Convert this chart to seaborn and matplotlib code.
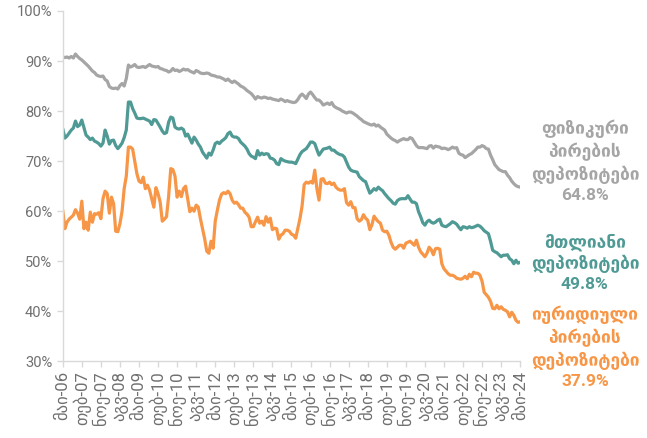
import pandas as pd
import matplotlib
matplotlib.use("Agg")
import matplotlib.pyplot as plt
import seaborn as sns

# monthly series, May 2006 - May 2024 (share of deposits in foreign currency, %)
start_month = "2006-05-01"
n_months = 217

individuals = [
    90.8, 90.7, 90.8, 90.6, 90.9, 90.6, 91.4, 90.9, 90.5, 90.2,
    89.8, 89.4, 89.0, 88.5, 88.0, 87.7, 87.2, 87.0, 86.9, 87.0,
    86.3, 86.0, 84.9, 84.6, 84.5, 84.6, 84.4, 85.1, 85.5, 85.0,
    86.5, 89.2, 88.8, 89.0, 89.3, 88.8, 88.7, 88.8, 88.9, 88.7,
    89.0, 89.3, 89.0, 88.9, 88.8, 88.9, 88.5, 88.4, 88.2, 88.1,
    87.8, 88.0, 88.5, 88.1, 88.2, 87.9, 88.1, 88.4, 88.2, 88.3,
    88.0, 87.8, 87.6, 88.1, 87.9, 87.6, 87.5, 87.5, 87.6, 87.5,
    87.2, 87.1, 87.0, 86.8, 86.8, 86.6, 86.4, 86.1, 86.4, 86.0,
    85.7, 86.0, 85.7, 85.4, 85.0, 84.8, 84.5, 84.1, 83.8, 83.5,
    83.0, 82.4, 82.9, 82.7, 82.6, 82.8, 82.7, 82.5, 82.6, 82.4,
    82.3, 82.2, 82.1, 82.4, 82.2, 81.9, 82.1, 81.9, 81.8, 81.7,
    81.8, 82.3, 83.0, 83.4, 83.0, 82.5, 83.4, 83.8, 83.3, 82.7,
    82.2, 82.2, 81.8, 81.2, 81.4, 81.6, 81.3, 81.7, 81.0, 80.7,
    80.5, 80.3, 80.0, 79.8, 79.6, 79.8, 79.8, 79.6, 79.3, 79.0,
    78.6, 78.3, 77.9, 77.7, 77.5, 77.3, 77.2, 77.4, 77.0, 77.2,
    76.8, 76.5, 76.2, 75.4, 75.0, 74.6, 74.3, 74.1, 73.8, 74.1,
    74.3, 74.5, 74.3, 74.3, 74.7, 74.5, 73.8, 73.1, 72.7, 72.7,
    72.7, 72.6, 72.5, 73.0, 73.1, 72.6, 73.0, 72.9, 72.8, 72.5,
    72.6, 72.5, 72.3, 72.5, 72.8, 72.6, 72.7, 71.6, 71.3, 71.2,
    70.7, 71.0, 71.3, 71.5, 71.9, 72.3, 72.8, 72.8, 73.1, 72.9,
    72.5, 72.4, 71.2, 70.3, 69.3, 68.8, 68.3, 68.1, 67.9, 67.9,
    67.2, 66.7, 66.0, 65.5, 65.1, 64.9, 64.8,
]

total = [
    76.5, 74.6, 75.0, 75.6, 76.2, 76.6, 78.0, 76.9, 77.2, 78.2,
    76.7, 75.2, 74.8, 74.3, 74.6, 74.0, 73.8, 73.5, 73.0, 73.6,
    76.2, 75.0, 73.4, 74.1, 74.2, 73.1, 72.5, 73.0, 73.6, 74.7,
    76.2, 81.8, 81.8, 80.5, 79.6, 78.6, 78.5, 78.5, 78.6, 78.4,
    78.2, 78.0, 77.3, 78.3, 78.2, 77.5, 76.8, 76.0, 75.5, 75.7,
    77.8, 78.8, 78.6, 76.8, 76.5, 76.4, 76.6, 76.3, 75.0, 75.4,
    74.5, 73.6, 74.8, 74.2, 73.4, 72.8, 71.8, 71.2, 70.6, 71.6,
    71.2, 72.2, 73.5, 73.8, 73.5, 74.0, 74.3, 74.7, 75.5, 75.8,
    75.0, 74.8, 74.8, 74.5, 73.8, 73.4, 73.0, 72.4, 71.5, 71.0,
    70.8, 70.5, 72.1, 71.2, 71.6, 71.3, 71.5, 71.4, 70.6, 70.5,
    70.2, 69.5, 69.3, 70.5, 70.2, 70.0, 69.9, 69.8, 69.8, 69.7,
    69.5, 70.4, 71.3, 71.9, 72.2, 72.5, 73.1, 73.8, 73.8, 73.5,
    72.3, 71.2, 71.8, 72.4, 72.5, 72.6, 72.8, 72.2, 72.2, 71.8,
    71.5, 71.3, 71.2, 70.8, 69.8, 68.8, 68.2, 68.0, 67.9, 67.8,
    66.9, 66.5, 66.1, 65.9, 64.7, 63.6, 64.0, 64.5, 64.2, 64.8,
    64.4, 64.1, 63.5, 63.0, 62.5, 62.1, 61.6, 61.4, 62.1, 62.4,
    62.5, 62.5, 62.5, 63.1, 62.4, 61.8, 61.8, 61.5, 59.9, 58.9,
    57.7, 57.2, 57.9, 58.2, 57.8, 57.6, 57.8, 58.2, 58.4, 57.2,
    57.0, 56.9, 57.2, 57.5, 57.9, 57.7, 57.4, 56.8, 56.3, 56.9,
    56.8, 56.6, 56.9, 56.7, 56.8, 57.0, 57.2, 57.0, 56.6, 56.1,
    55.8, 55.5, 54.0, 52.2, 51.9, 51.7, 51.3, 50.9, 51.2, 51.2,
    51.3, 50.5, 50.2, 49.5, 50.2, 49.6, 49.8,
]

legal_entities = [
    60.2, 56.5, 57.8, 58.4, 58.8, 59.2, 60.3, 59.6, 58.4, 62.0,
    56.5, 57.8, 56.2, 59.8, 57.8, 59.5, 59.4, 59.7, 58.5, 62.5,
    64.0, 63.5, 59.6, 62.8, 61.5, 56.0, 55.9, 57.5, 60.0, 64.5,
    67.0, 72.8, 72.8, 72.4, 70.0, 67.5, 66.0, 65.7, 66.8, 64.5,
    65.2, 64.2, 62.5, 60.8, 64.7, 63.5, 61.8, 58.0, 58.4, 58.9,
    63.0, 68.5, 68.3, 67.0, 62.8, 64.0, 62.9, 64.5, 65.0, 62.5,
    59.9, 60.6, 60.0, 61.2, 60.8, 58.5, 56.5, 54.5, 52.0, 51.6,
    54.0, 52.6, 58.0, 60.2, 62.2, 63.4, 63.7, 63.5, 64.0, 63.5,
    62.2, 61.6, 61.8, 61.3, 60.6, 60.6, 59.8, 59.4, 58.8, 56.9,
    56.9, 57.9, 58.8, 57.6, 58.0, 57.2, 58.9, 57.8, 58.6, 56.3,
    56.6, 56.5, 54.4, 55.2, 55.5, 56.2, 56.2, 56.0, 55.4, 55.2,
    54.6, 56.5, 58.5, 61.0, 65.3, 65.8, 65.6, 65.9, 65.6, 68.2,
    64.5, 62.2, 66.4, 66.5, 65.6, 65.5, 65.8, 65.3, 65.6, 64.8,
    64.4, 64.2, 64.2, 64.5, 61.7, 61.2, 61.9, 60.7, 60.7, 58.5,
    58.0, 58.3, 59.3, 58.6, 58.2, 56.3, 57.3, 59.0, 58.4, 57.9,
    57.6, 56.2, 55.9, 56.0, 55.2, 53.8, 52.8, 52.4, 52.8, 53.2,
    53.2, 52.6, 53.6, 53.8, 54.0, 53.6, 53.2, 54.2, 52.8, 51.9,
    51.4, 50.9, 51.6, 52.8, 52.3, 51.3, 52.5, 52.6, 52.4, 49.5,
    48.5, 48.0, 47.5, 47.2, 47.2, 47.0, 46.6, 46.5, 46.4, 46.6,
    47.0, 46.5, 47.4, 46.9, 47.8, 47.6, 47.6, 47.2, 46.0, 43.8,
    43.3, 42.8, 42.0, 40.6, 40.5, 41.2, 40.5, 40.9, 40.4, 40.2,
    39.9, 38.9, 39.8, 39.2, 38.2, 37.8, 37.9,
]

geo_months = ["იან", "თებ", "მარ", "აპრ", "მაი", "ივნ",
              "ივლ", "აგვ", "სექ", "ოქტ", "ნოე", "დეკ"]
tick_step = 9

series_labels = {
    "individuals": "ფიზიკური\nპირების\nდეპოზიტები\n64.8%",
    "total": "მთლიანი\nდეპოზიტები\n49.8%",
    "legal": "იურიდიული\nპირების\nდეპოზიტები\n37.9%",
}

colors = {
    "individuals": "#A5A5A5",
    "total": "#4F9A94",
    "legal": "#F79646",
}

# long-form frame for seaborn
dates = pd.date_range(start_month, periods=n_months, freq="MS")
df = pd.DataFrame({
    "idx": range(n_months),
    "individuals": individuals,
    "total": total,
    "legal": legal_entities,
})
df_long = df.melt(id_vars="idx", var_name="series", value_name="value")

sns.set_style("ticks")
plt.rcParams["font.family"] = ["Roboto", "DejaVu Sans"]

fig = plt.figure(figsize=(6.47, 4.38), dpi=100)
ax = fig.add_axes([0.097, 0.175, 0.707, 0.80])

sns.lineplot(
    data=df_long,
    x="idx",
    y="value",
    hue="series",
    palette=colors,
    linewidth=2.3,
    legend=False,
    ax=ax,
)

# axes styling
ax.set_xlim(0, n_months - 1)
ax.set_ylim(30, 100)
ax.set_yticks(range(30, 101, 10))
ax.set_yticklabels([f"{v}%" for v in range(30, 101, 10)])
tick_pos = list(range(0, n_months, tick_step))
ax.set_xticks(tick_pos)
ax.set_xticklabels(
    [f"{geo_months[dates[i].month - 1]}-{dates[i].strftime('%y')}" for i in tick_pos],
    rotation=90,
)
ax.set_xlabel("")
ax.set_ylabel("")
ax.tick_params(axis="both", colors="#D9D9D9", labelcolor="#707070", length=4, width=1)
ax.tick_params(axis="y", labelsize=10.5)
ax.tick_params(axis="x", labelsize=12, pad=3)
for s in ["top", "right"]:
    ax.spines[s].set_visible(False)
for s in ["left", "bottom"]:
    ax.spines[s].set_color("#D9D9D9")
    ax.spines[s].set_linewidth(1)

# end labels
label_y = {"individuals": 0.632, "total": 0.400, "legal": 0.207}
for key, text in series_labels.items():
    fig.text(0.904, label_y[key], text, color=colors[key], fontsize=12.5,
             fontweight="bold", ha="center", va="center", linespacing=1.32)

plt.savefig("out.png", dpi=100)
